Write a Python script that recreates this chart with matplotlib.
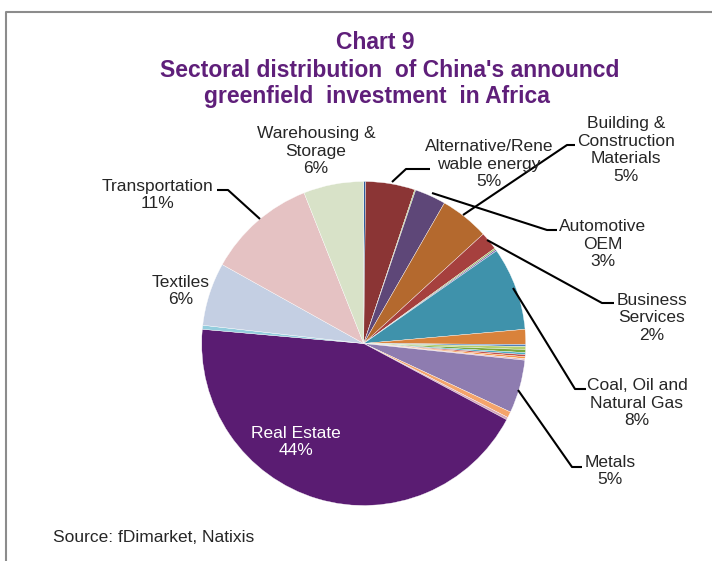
import matplotlib.pyplot as plt
from matplotlib.lines import Line2D

# Sectors clockwise from 12 o'clock; unnamed entries are the minor sectors
sectors = ['', 'Alternative/Renewable energy', '', 'Automotive OEM',
           'Building & Construction Materials', 'Business Services', '', '',
           'Coal, Oil and Natural Gas', '', '', '', '', '', '', '', '',
           'Metals', '', '', 'Real Estate', '', 'Textiles', 'Transportation',
           'Warehousing & Storage']
shares = [0.2, 4.9, 0.1, 3.1, 4.9, 1.8, 0.15, 0.15,
          8.3, 1.5, 0.2, 0.3, 0.3, 0.2, 0.2, 0.2, 0.15,
          5.3, 0.6, 0.25, 43.6, 0.4, 6.3, 10.9, 6.0]
colors = ['#2E5E9E', '#8B3535', '#9BBB59', '#5E4778', '#B4692E', '#A6403E',
          '#8FB04F', '#7B5EA7', '#3F92AB', '#D9823B', '#4F81BD', '#B5D06E',
          '#77A83C', '#4BACC6', '#C0504D', '#F79646', '#E6B9B8', '#8E7CB0',
          '#F4A46B', '#D8A8B8', '#5A1C72', '#93CDDD', '#C4CFE3', '#E5C2C3',
          '#D8E2C8']

# label text lines, block centre (px from top-left), leader path (px) or None
labels = {
    'Warehousing & Storage': (['Warehousing &', 'Storage'], (316, 151), None),
    'Alternative/Renewable energy': (['Alternative/Rene', 'wable energy'], (489, 164),
                                     [(392, 182), (406, 169), (430, 169)]),
    'Building & Construction Materials': (['Building &', 'Construction', 'Materials'], (626, 150),
                                          [(463, 215), (567, 145), (575, 145)]),
    'Automotive OEM': (['Automotive', 'OEM'], (603, 244),
                       [(432, 193), (547, 230), (557, 230)]),
    'Business Services': (['Business', 'Services'], (652, 318),
                          [(487, 240), (602, 303), (614, 303)]),
    'Coal, Oil and Natural Gas': (['Coal, Oil and', 'Natural Gas'], (637, 403),
                                  [(513, 288), (575, 389), (586, 389)]),
    'Metals': (['Metals'], (610, 471), [(518, 390), (572, 467), (582, 467)]),
    'Transportation': (['Transportation'], (158, 195),
                       [(217, 190), (228, 190), (260, 219)]),
    'Textiles': (['Textiles'], (181, 291), None),
}

W, H = 712, 561
fig = plt.figure(figsize=(W / 100, H / 100), dpi=100)
ax = fig.add_axes([0, 0, 1, 1])
plt.rcParams['font.family'] = ['Liberation Sans', 'DejaVu Sans']

cx, cy, r = 363.7, H - 343.5, 162
ax.pie(shares, colors=colors, startangle=90, counterclock=False,
       center=(cx, cy), radius=r,
       wedgeprops=dict(edgecolor='white', linewidth=0.25))
ax.set_xlim(0, W)
ax.set_ylim(0, H)
ax.set_aspect('equal')
ax.axis('off')

total = sum(shares)
lab_size = 12.5
txt_col = '#262626'
for name, (lines, (lx, ly), path) in labels.items():
    pct = shares[sectors.index(name)] / total * 100
    txt = '\n'.join(lines + ['%.0f%%' % pct])
    ax.text(lx, H - ly, txt, ha='center', va='center', multialignment='center',
            fontsize=lab_size, color=txt_col, linespacing=1.2)
    if path:
        xs = [p[0] for p in path]
        ys = [H - p[1] for p in path]
        ax.plot(xs, ys, color='black', lw=1.5, solid_capstyle='butt')

# Real Estate label inside the slice
re_pct = shares[sectors.index('Real Estate')] / total * 100
ax.text(296, H - 442, 'Real Estate\n%.0f%%' % re_pct, ha='center', va='center',
        fontsize=lab_size, color='white', linespacing=1.2)

# title
title_col = '#5F1F7A'
title_size = 16.5
ax.text(375, H - 42, 'Chart 9', ha='center', va='center', fontsize=title_size,
        fontweight='bold', color=title_col)
ax.text(390, H - 70, "Sectoral distribution  of China's announcd", ha='center',
        va='center', fontsize=title_size, fontweight='bold', color=title_col)
ax.text(377, H - 96, 'greenfield  investment  in Africa', ha='center',
        va='center', fontsize=title_size, fontweight='bold', color=title_col)

ax.text(53, H - 537, 'Source: fDimarket, Natixis', ha='left', va='center',
        fontsize=lab_size, color=txt_col)

# outer frame (top and left edges)
fig.add_artist(Line2D([6 / W, 6 / W, 1], [0, 1 - 12 / H, 1 - 12 / H],
                      color='#8C8C8C', lw=1.5, transform=fig.transFigure))

fig.savefig('out.png', dpi=100)
